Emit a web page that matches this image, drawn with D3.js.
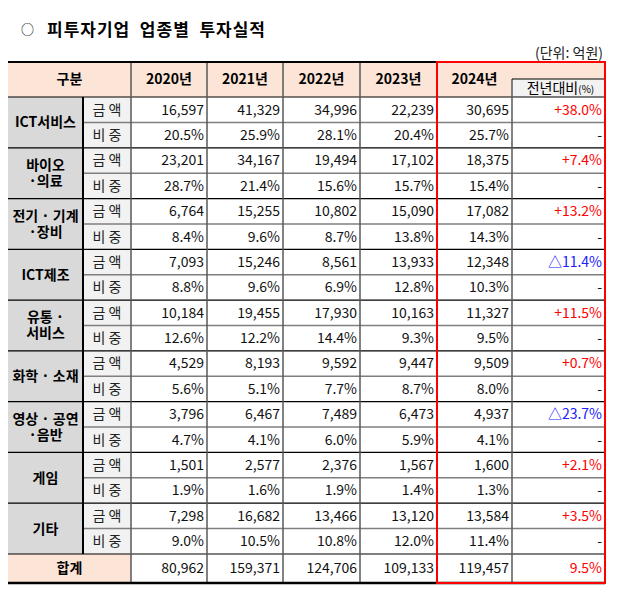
<!DOCTYPE html>
<html>
<head>
<meta charset="utf-8">
<script src="https://cdn.jsdelivr.net/npm/d3@7"></script>
<style>
  body { margin: 0; background: #fff; }
  svg text { font-family: "Noto Sans CJK KR", "Noto Sans", sans-serif; }
</style>
</head>
<body>
<svg id="tbl" width="621" height="597"></svg>
<script>
// data
const years = ["2020년", "2021년", "2022년", "2023년", "2024년"];
const categories = ["ICT서비스", "바이오\n·의료", "전기 · 기계\n·장비", "ICT제조", "유통 ·\n서비스",
	"화학 · 소재", "영상 · 공연\n·음반", "게임", "기타"];
const amounts = [
	[16597, 41329, 34996, 22239, 30695],
	[23201, 34167, 19494, 17102, 18375],
	[6764, 15255, 10802, 15090, 17082],
	[7093, 15246, 8561, 13933, 12348],
	[10184, 19455, 17930, 10163, 11327],
	[4529, 8193, 9592, 9447, 9509],
	[3796, 6467, 7489, 6473, 4937],
	[1501, 2577, 2376, 1567, 1600],
	[7298, 16682, 13466, 13120, 13584]
];
const shares = [
	[20.5, 25.9, 28.1, 20.4, 25.7],
	[28.7, 21.4, 15.6, 15.7, 15.4],
	[8.4, 9.6, 8.7, 13.8, 14.3],
	[8.8, 9.6, 6.9, 12.8, 10.3],
	[12.6, 12.2, 14.4, 9.3, 9.5],
	[5.6, 5.1, 7.7, 8.7, 8.0],
	[4.7, 4.1, 6.0, 5.9, 4.1],
	[1.9, 1.6, 1.9, 1.4, 1.3],
	[9.0, 10.5, 10.8, 12.0, 11.4]
];
const yoy = [38.0, 7.4, 13.2, -11.4, 11.5, 0.7, -23.7, 2.1, 3.5];
const totals = [80962, 159371, 124706, 109133, 119457];
const totalYoy = 9.5;
const subLabels = ["금 액", "비 중"];

const svg = d3.select('#tbl');
const fmt = d3.format(',d');
const pct = d3.format('.1f');

// column edges: category, sub label, 5 years, yoy
const colWidths = [75, 48, 76, 76, 77, 77, 75, 93];
const tLeft = 8;
let edges = [tLeft];
colWidths.forEach(w => edges.push(edges[edges.length - 1] + w));
const tRight = edges[edges.length - 1];

const tTop = 62, headBottom = 97, bodyBottom = 554, tBottom = 583;

const rowKeys = d3.range(categories.length * 2);
const y = d3.scaleBand().domain(rowKeys).range([headBottom, bodyBottom]);
const catY = d3.scaleBand().domain(d3.range(categories.length)).range([headBottom, bodyBottom]);

// title
svg.append('text')
	.attr('x', 21).attr('y', 34)
	.style('font-size', '13px')
	.text('○');
svg.append('text')
	.attr('x', 47).attr('y', 36)
	.attr('textLength', 218)
	.attr('lengthAdjust', 'spacing')
	.style('font-size', '17px')
	.style('font-weight', '700')
	.attr('xml:space', 'preserve')
	.text('피투자기업  업종별  투자실적');
svg.append('text')
	.attr('x', 603).attr('y', 58)
	.attr('text-anchor', 'end')
	.style('font-size', '14px')
	.attr('fill', '#222')
	.text('(단위: 억원)');

// backgrounds
svg.append('rect').attr('x', tLeft).attr('y', tTop).attr('width', tRight - tLeft).attr('height', headBottom - tTop)
	.style('fill', '#fce4d6');
svg.append('rect').attr('x', edges[7]).attr('y', 79).attr('width', edges[8] - edges[7]).attr('height', headBottom - 79)
	.style('fill', '#f2f2f2');
svg.append('rect').attr('x', tLeft).attr('y', headBottom).attr('width', edges[1] - tLeft).attr('height', bodyBottom - headBottom)
	.style('fill', '#d9d9d9');
svg.append('rect').attr('x', edges[1]).attr('y', headBottom).attr('width', edges[2] - edges[1]).attr('height', bodyBottom - headBottom)
	.style('fill', '#f2f2f2');
svg.append('rect').attr('x', tLeft).attr('y', bodyBottom).attr('width', edges[2] - tLeft).attr('height', tBottom - bodyBottom)
	.style('fill', '#fce4d6');

// grid lines
const grid = svg.append('g');
// sub-row dividers (gray)
categories.forEach((c, i) => {
	const yy = y(i * 2 + 1);
	grid.append('line').attr('x1', edges[1]).attr('x2', tRight).attr('y1', yy).attr('y2', yy)
		.style('stroke', '#7f7f7f').style('stroke-width', 1.5);
});
// category dividers (black)
categories.forEach((c, i) => {
	if (i === 0) return;
	const yy = catY(i);
	grid.append('line').attr('x1', tLeft).attr('x2', tRight).attr('y1', yy).attr('y2', yy)
		.style('stroke', '#000').style('stroke-width', 1.2);
});
grid.append('line').attr('x1', tLeft).attr('x2', tRight).attr('y1', headBottom).attr('y2', headBottom)
	.style('stroke', '#000').style('stroke-width', 1.2);
grid.append('line').attr('x1', tLeft).attr('x2', tRight).attr('y1', bodyBottom).attr('y2', bodyBottom)
	.style('stroke', '#000').style('stroke-width', 1.2);

// vertical lines
grid.append('line').attr('x1', edges[1]).attr('x2', edges[1]).attr('y1', headBottom).attr('y2', bodyBottom)
	.style('stroke', '#000').style('stroke-width', 2);
for (let k = 2; k <= 7; k++) {
	grid.append('line').attr('x1', edges[k]).attr('x2', edges[k]).attr('y1', k === 7 ? 79 : tTop).attr('y2', tBottom)
		.style('stroke', '#595959').style('stroke-width', 1.5);
}
// sub-header box
grid.append('line').attr('x1', edges[7]).attr('x2', tRight).attr('y1', 79).attr('y2', 79)
	.style('stroke', '#000').style('stroke-width', 1);
// top and bottom thick lines
grid.append('line').attr('x1', tLeft).attr('x2', tRight).attr('y1', tTop).attr('y2', tTop)
	.style('stroke', '#000').style('stroke-width', 2);
grid.append('line').attr('x1', tLeft).attr('x2', tRight).attr('y1', tBottom).attr('y2', tBottom)
	.style('stroke', '#000').style('stroke-width', 2.5);

// header texts
const headMid = (tTop + headBottom) / 2;
svg.append('text')
	.attr('x', (tLeft + edges[2]) / 2).attr('y', headMid).attr('dy', '0.35em')
	.attr('text-anchor', 'middle')
	.style('font-size', '14px').style('font-weight', '700')
	.text('구분');
svg.selectAll('.yearHead')
	.data(years)
	.enter()
	.append('text')
	.attr('class', 'yearHead')
	.attr('x', (d, i) => (edges[i + 2] + edges[i + 3]) / 2)
	.attr('y', (d, i) => i === 4 ? 79 : headMid)
	.attr('dy', '0.35em')
	.attr('text-anchor', 'middle')
	.style('font-size', '14px').style('font-weight', '700')
	.text(d => d);
const sub = svg.append('text')
	.attr('x', (edges[7] + tRight) / 2 + 2).attr('y', 88).attr('dy', '0.35em')
	.attr('text-anchor', 'middle')
	.style('font-size', '14px');
sub.append('tspan').text('전년대비');
sub.append('tspan').style('font-size', '10px').text('(%)');

// category labels
categories.forEach((c, i) => {
	const lines = c.split('\n');
	const cy = catY(i) + catY.bandwidth() / 2;
	const lh = 16;
	const t = svg.append('text')
		.attr('text-anchor', 'middle')
		.style('font-size', '14px').style('font-weight', '700');
	lines.forEach((ln, j) => {
		t.append('tspan')
			.attr('x', (tLeft + edges[1]) / 2)
			.attr('y', cy + (j - (lines.length - 1) / 2) * lh)
			.attr('dy', '0.35em')
			.text(ln);
	});
});

// sub labels
svg.selectAll('.subLabel')
	.data(rowKeys)
	.enter()
	.append('text')
	.attr('class', 'subLabel')
	.attr('x', (edges[1] + edges[2]) / 2)
	.attr('y', d => y(d) + y.bandwidth() / 2)
	.attr('dy', '0.35em')
	.attr('text-anchor', 'middle')
	.attr('xml:space', 'preserve')
	.style('font-size', '14px')
	.style('fill', '#222')
	.text(d => subLabels[d % 2]);

// values
const cells = [];
categories.forEach((c, i) => {
	amounts[i].forEach((v, j) => cells.push({ row: i * 2, col: j, text: fmt(v) }));
	shares[i].forEach((v, j) => cells.push({ row: i * 2 + 1, col: j, text: pct(v) + '%' }));
});
svg.selectAll('.val')
	.data(cells)
	.enter()
	.append('text')
	.attr('class', 'val')
	.attr('x', d => edges[d.col + 3] - 3)
	.attr('y', d => y(d.row) + y.bandwidth() / 2)
	.attr('dy', '0.35em')
	.attr('text-anchor', 'end')
	.style('font-size', '14px')
	.style('fill', '#111')
	.text(d => d.text);

// year-on-year
const yoyCells = [];
yoy.forEach((v, i) => {
	yoyCells.push({ row: i * 2, text: (v >= 0 ? '+' : '△') + pct(Math.abs(v)) + '%', color: v >= 0 ? '#ff0000' : '#2020ff' });
	yoyCells.push({ row: i * 2 + 1, text: '-', color: '#111' });
});
svg.selectAll('.yoy')
	.data(yoyCells)
	.enter()
	.append('text')
	.attr('class', 'yoy')
	.attr('x', tRight - 3)
	.attr('y', d => y(d.row) + y.bandwidth() / 2)
	.attr('dy', '0.35em')
	.attr('text-anchor', 'end')
	.style('font-size', '14px')
	.style('fill', d => d.color)
	.text(d => d.text);

// totals row
const totMid = (bodyBottom + tBottom) / 2;
svg.append('text')
	.attr('x', (tLeft + edges[2]) / 2).attr('y', totMid).attr('dy', '0.35em')
	.attr('text-anchor', 'middle')
	.style('font-size', '14px').style('font-weight', '700')
	.text('합계');
svg.selectAll('.tot')
	.data(totals)
	.enter()
	.append('text')
	.attr('class', 'tot')
	.attr('x', (d, j) => edges[j + 3] - 3)
	.attr('y', totMid).attr('dy', '0.35em')
	.attr('text-anchor', 'end')
	.style('font-size', '14px')
	.style('fill', '#111')
	.text(d => fmt(d));
svg.append('text')
	.attr('x', tRight - 3).attr('y', totMid).attr('dy', '0.35em')
	.attr('text-anchor', 'end')
	.style('font-size', '14px')
	.style('fill', '#ff0000')
	.text(pct(totalYoy) + '%');

// red frame around 2024 block
svg.append('rect')
	.attr('x', edges[6]).attr('y', tTop)
	.attr('width', tRight - edges[6]).attr('height', tBottom - tTop)
	.style('fill', 'none')
	.style('stroke', '#ff0000')
	.style('stroke-width', 2);
</script>
</body>
</html>
